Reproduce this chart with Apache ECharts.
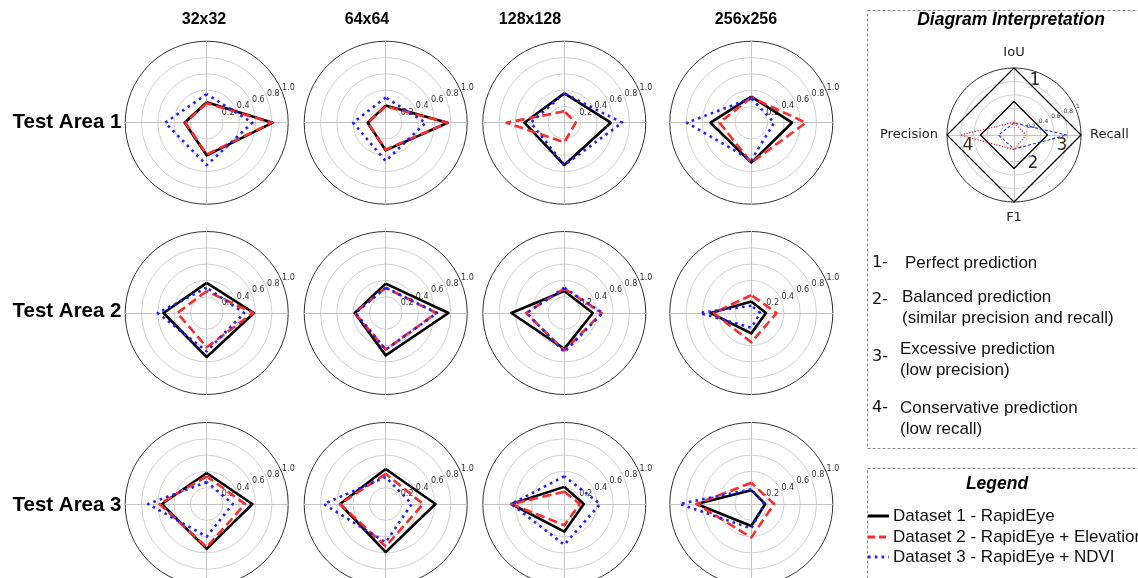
<!DOCTYPE html>
<html>
<head>
<meta charset="utf-8">
<script src="https://cdn.jsdelivr.net/npm/echarts@6/dist/echarts.min.js"></script>
<style>
  html, body { margin: 0; padding: 0; background: #fff; }
  #chart { width: 1138px; height: 578px; }
</style>
</head>
<body>
<div id="chart"></div>
<script>
// Metric order around each radar (counter-clockwise from the top)
const metrics = ['IoU', 'Precision', 'F1', 'Recall'];
const resolutions = ['32x32', '64x64', '128x128', '256x256'];
const areas = ['Test Area 1', 'Test Area 2', 'Test Area 3'];
const radialTicks = ['0.2', '0.4', '0.6', '0.8', '1.0'];
const diagramTicks = ['0.2', '0.4', '0.6', '0.8', '1'];

// Values per test area, per resolution: [IoU, Precision, F1, Recall]
const rapidEye = [
  [[0.25, 0.27, 0.40, 0.81], [0.21, 0.22, 0.34, 0.76], [0.36, 0.49, 0.52, 0.57], [0.32, 0.50, 0.49, 0.50]],
  [[0.37, 0.53, 0.54, 0.58], [0.36, 0.38, 0.52, 0.77], [0.27, 0.65, 0.44, 0.35], [0.14, 0.50, 0.25, 0.18]],
  [[0.38, 0.55, 0.55, 0.56], [0.43, 0.56, 0.59, 0.61], [0.21, 0.65, 0.34, 0.24], [0.17, 0.67, 0.27, 0.17]]
];
const rapidEyeElevation = [
  [[0.24, 0.26, 0.39, 0.80], [0.20, 0.22, 0.33, 0.76], [0.14, 0.71, 0.24, 0.14], [0.31, 0.39, 0.49, 0.67]],
  [[0.27, 0.36, 0.42, 0.57], [0.31, 0.38, 0.45, 0.62], [0.30, 0.47, 0.46, 0.46], [0.22, 0.46, 0.36, 0.31]],
  [[0.34, 0.58, 0.53, 0.47], [0.37, 0.56, 0.52, 0.46], [0.15, 0.65, 0.26, 0.19], [0.26, 0.67, 0.41, 0.28]]
];
const rapidEyeNdvi = [
  [[0.35, 0.51, 0.52, 0.56], [0.31, 0.40, 0.47, 0.49], [0.36, 0.41, 0.52, 0.71], [0.30, 0.79, 0.46, 0.28]],
  [[0.31, 0.60, 0.47, 0.46], [0.31, 0.37, 0.45, 0.63], [0.31, 0.46, 0.48, 0.47], [0.09, 0.63, 0.18, 0.11]],
  [[0.27, 0.72, 0.40, 0.32], [0.33, 0.76, 0.47, 0.32], [0.34, 0.65, 0.50, 0.44], [0.18, 0.88, 0.30, 0.16]]
];

// Schematic shapes of the interpretation diagram: [IoU, Precision, F1, Recall]
const perfectShape = [1, 1, 1, 1];
const balancedShape = [0.5, 0.5, 0.5, 0.5];
const excessiveShape = [0.18, 0.23, 0.21, 0.79];
const conservativeShape = [0.19, 0.80, 0.22, 0.18];

const datasetNames = ['Dataset 1 - RapidEye', 'Dataset 2 - RapidEye + Elevation', 'Dataset 3 - RapidEye + NDVI'];
const interpretationItems = [
  ['1-', ['Perfect prediction']],
  ['2-', ['Balanced prediction', '(similar precision and recall)']],
  ['3-', ['Excessive prediction', '(low precision)']],
  ['4-', ['Conservative prediction', '(low recall)']]
];

// Layout
const colX = [206.7, 385.7, 564.3, 751.3];
const rowY = [122.7, 313, 504];
const R = 81.5;
const titleX = [204, 367, 530, 746];
const diagCenter = [1014, 135];
const diagR = 67;

const datasetStyles = [
  { color: '#000000', width: 2.6, type: 'solid' },
  { color: '#ff2a2a', width: 2.6, type: [9, 4.5] },
  { color: '#1f1fff', width: 2.6, type: [2.6, 4.2] }
];
const datasetValues = [rapidEye, rapidEyeElevation, rapidEyeNdvi];

const SANS = "'Liberation Sans', Arial, sans-serif";
const DEJAVU = "'DejaVu Sans', sans-serif";

const radars = [], polars = [], angleAxes = [], radiusAxes = [], series = [];

// Rings 0.0 … 1.0: light grid, dark outer spine
const ringColors = ['#d2d2d2', '#d2d2d2', '#d2d2d2', '#d2d2d2', '#d2d2d2', '#333333'];

function addRadar(center, radius, showNames) {
  radars.push({
    center: center,
    radius: radius,
    shape: 'circle',
    startAngle: 90,
    splitNumber: 5,
    indicator: metrics.map(m => ({ name: m, min: 0, max: 1 })),
    axisName: showNames
      ? { show: true, color: '#222', fontSize: 13, fontFamily: DEJAVU }
      : { show: false },
    nameGap: 9,
    splitArea: { show: false },
    splitLine: { lineStyle: { color: ringColors, width: 1 } },
    axisLine: { lineStyle: { color: '#c4c4c4', width: 1 } },
    axisTick: { show: false },
    axisLabel: { show: false }
  });
  return radars.length - 1;
}

function addRadialLabels(center, radius, ticks, fontSize) {
  const idx = polars.length;
  polars.push({ center: center, radius: radius });
  angleAxes.push({
    polarIndex: idx, type: 'value', min: 0, max: 360, startAngle: 22.5,
    show: false
  });
  radiusAxes.push({
    polarIndex: idx, type: 'value', min: 0, max: 1, interval: 0.2,
    axisLine: { show: false }, axisTick: { show: false }, splitLine: { show: false },
    axisLabel: {
      show: true, margin: 0, align: 'left', verticalAlign: 'bottom',
      fontSize: fontSize, color: '#333', fontFamily: DEJAVU,
      formatter: v => ticks[Math.round(v / 0.2) - 1] || ''
    }
  });
}

// Grid of 12 radars
areas.forEach((area, r) => {
  resolutions.forEach((res, c) => {
    const center = [colX[c], rowY[r]];
    const ri = addRadar(center, R, false);
    addRadialLabels(center, R, radialTicks, 8);
    datasetValues.forEach((vals, d) => {
      series.push({
        type: 'radar',
        radarIndex: ri,
        symbol: 'none',
        silent: true,
        z: 3 + d,
        lineStyle: datasetStyles[d],
        data: [{ value: vals[r][c], name: datasetNames[d] }]
      });
    });
  });
});

// Interpretation diagram
const di = addRadar(diagCenter, diagR, true);
addRadialLabels(diagCenter, diagR, diagramTicks, 6);
[
  [perfectShape, { color: '#000', width: 1.2, type: 'solid' }],
  [balancedShape, { color: '#000', width: 1.2, type: 'solid' }],
  [excessiveShape, { color: '#2233ee', width: 1.1, type: [3, 2] }],
  [conservativeShape, { color: '#ee2222', width: 1.2, type: [1.2, 1.6] }]
].forEach(([vals, style], k) => {
  series.push({
    type: 'radar', radarIndex: di, symbol: 'none', silent: true, z: 3 + k,
    lineStyle: style, data: [{ value: vals }]
  });
});

// Text and frames
const graphic = [];
function text(x, y, str, opt) {
  graphic.push({
    type: 'text', x: x, y: y, silent: true,
    style: Object.assign({
      text: str, fill: '#111', font: '17px ' + SANS,
      textAlign: 'left', textVerticalAlign: 'middle'
    }, opt || {})
  });
}

resolutions.forEach((res, c) => text(titleX[c], 20, res, { font: 'bold 16px ' + SANS, textAlign: 'center', fill: '#000' }));
areas.forEach((a, r) => text(67, [122, 311, 505][r], a, { font: 'bold 20.5px ' + SANS, textAlign: 'center', fill: '#000' }));

// Dashed frames
graphic.push({
  type: 'rect', silent: true,
  shape: { x: 867.5, y: 10.5, width: 290, height: 438 },
  style: { fill: 'none', stroke: '#8a8a8a', lineWidth: 1, lineDash: [3, 2] }
});
graphic.push({
  type: 'rect', silent: true,
  shape: { x: 867.5, y: 468.5, width: 290, height: 130 },
  style: { fill: 'none', stroke: '#8a8a8a', lineWidth: 1, lineDash: [3, 2] }
});

text(1011, 20, 'Diagram Interpretation', { font: 'italic bold 17.5px ' + SANS, textAlign: 'center', fill: '#000' });
text(1035, 81, '1', { font: '17px ' + DEJAVU, textAlign: 'center', fill: '#222' });
text(1033, 164, '2', { font: '17px ' + DEJAVU, textAlign: 'center', fill: '#222' });
text(1062, 146, '3', { font: '17px ' + DEJAVU, textAlign: 'center', fill: '#3a2817' });
text(968, 146, '4', { font: '17px ' + DEJAVU, textAlign: 'center', fill: '#3a2817' });

const itemY = [[263, [263]], [300, [297, 318]], [357, [349, 370]], [408, [408, 429]]];
const itemX = [905, 902, 900, 900];
interpretationItems.forEach(([num, lines], i) => {
  text(872, itemY[i][0], num, { font: '16px ' + DEJAVU, fill: '#111' });
  lines.forEach((ln, j) => text(itemX[i], itemY[i][1][j], ln, { font: '17px ' + SANS, fill: '#111' }));
});

// Legend
text(997, 484, 'Legend', { font: 'italic bold 17.5px ' + SANS, textAlign: 'center', fill: '#000' });
const legendY = [516, 537, 557];
datasetNames.forEach((nm, d) => {
  const st = datasetStyles[d];
  graphic.push({
    type: 'line', silent: true,
    shape: { x1: 868, y1: legendY[d], x2: 889, y2: legendY[d] },
    style: { stroke: st.color, lineWidth: 3, lineDash: st.type === 'solid' ? null : (d === 1 ? [7, 4] : [2.6, 4.2]) }
  });
  text(893, legendY[d], nm, { font: '17px ' + SANS, fill: '#111' });
});

const chart = echarts.init(document.getElementById('chart'), null, { renderer: 'canvas' });
chart.setOption({
  animation: false,
  backgroundColor: '#ffffff',
  radar: radars,
  polar: polars,
  angleAxis: angleAxes,
  radiusAxis: radiusAxes,
  series: series,
  graphic: graphic
});
</script>
</body>
</html>
